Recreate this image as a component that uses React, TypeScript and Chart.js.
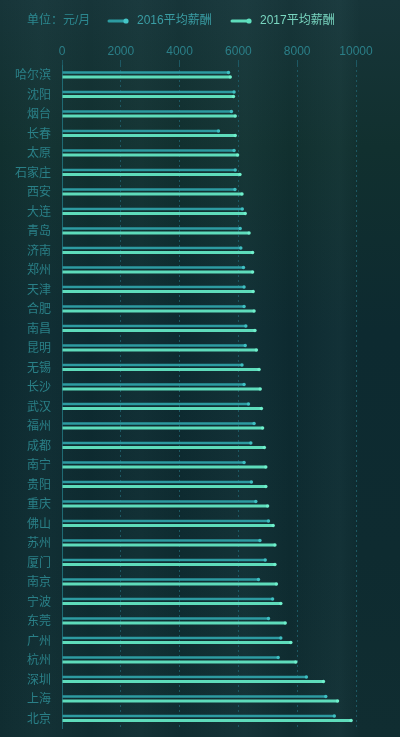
import React, { useEffect, useRef } from "react";
import { Chart, registerables } from "chart.js";

Chart.register(...registerables);

const cities = ["哈尔滨","沈阳","烟台","长春","太原","石家庄","西安","大连","青岛","济南","郑州","天津","合肥","南昌","昆明","无锡","长沙","武汉","福州","成都","南宁","贵阳","重庆","佛山","苏州","厦门","南京","宁波","东莞","广州","杭州","深圳","上海","北京"];
const salary2016 = [5680,5870,5780,5340,5870,5910,5900,6150,6080,6100,6190,6210,6210,6270,6250,6140,6210,6360,6550,6440,6210,6460,6610,7040,6750,6930,6700,7180,7040,7460,7370,8330,8990,9280];
const salary2017 = [5740,5850,5910,5910,5990,6070,6140,6250,6380,6500,6500,6520,6550,6580,6630,6720,6760,6800,6840,6900,6950,6950,7010,7200,7260,7260,7310,7460,7610,7800,7970,8910,9390,9850];
const seriesLabels = ["2016平均薪酬", "2017平均薪酬"];
const unitLabel = "单位：元/月";
const xTicks = [0, 2000, 4000, 6000, 8000, 10000];

const FONT = '"Liberation Sans", "Noto Sans CJK SC", sans-serif';
const COLOR16 = "#2d9ba1";
const COLOR17 = "#5edcbb";

const legendPlugin = {
  id: "customLegend",
  afterDraw(chart: any) {
    const ctx = chart.ctx;
    ctx.save();
    ctx.font = `12px ${FONT}`;
    ctx.textBaseline = "middle";
    ctx.textAlign = "left";
    const y = 21;
    ctx.fillStyle = "#2c8890";
    ctx.fillText(unitLabel, 27, y);
    const items = [
      { x: 108, color: COLOR16, dot: "#45c6c8", text: "#3a9da4", label: chart.data.datasets[0].label },
      { x: 231, color: COLOR17, dot: "#5ee0bf", text: "#79d6c0", label: chart.data.datasets[1].label },
    ];
    items.forEach((it) => {
      ctx.strokeStyle = it.color;
      ctx.lineWidth = 3;
      ctx.lineCap = "round";
      ctx.beginPath();
      ctx.moveTo(it.x + 1, y);
      ctx.lineTo(it.x + 18, y);
      ctx.stroke();
      ctx.fillStyle = it.dot;
      ctx.beginPath();
      ctx.arc(it.x + 18, y, 2.6, 0, Math.PI * 2);
      ctx.fill();
      ctx.fillStyle = it.text;
      ctx.fillText(it.label, it.x + 29, y);
    });
    ctx.restore();
  },
};

const dotPlugin = {
  id: "barDots",
  afterDatasetsDraw(chart: any) {
    const ctx = chart.ctx;
    ctx.save();
    chart.data.datasets.forEach((ds: any, i: number) => {
      const meta = chart.getDatasetMeta(i);
      const c = i === 0 ? "#3fc0c2" : "#6ff0cc";
      meta.data.forEach((bar: any) => {
        ctx.fillStyle = c;
        ctx.beginPath();
        ctx.arc(bar.x - 0.5, bar.y, 1.7, 0, Math.PI * 2);
        ctx.fill();
      });
    });
    ctx.restore();
  },
};

export default function App() {
  const ref = useRef<HTMLCanvasElement>(null);
  useEffect(() => {
    if (!ref.current) return;
    const chart = new Chart(ref.current, {
      type: "bar",
      data: {
        labels: cities,
        datasets: [
          {
            label: seriesLabels[0],
            data: salary2016,
            backgroundColor: COLOR16,
            borderRadius: 2,
            borderSkipped: "start",
            categoryPercentage: 0.45,
            barPercentage: 0.55,
          },
          {
            label: seriesLabels[1],
            data: salary2017,
            backgroundColor: COLOR17,
            borderRadius: 2,
            borderSkipped: "start",
            categoryPercentage: 0.45,
            barPercentage: 0.7,
          },
        ],
      },
      options: {
        indexAxis: "y",
        animation: false,
        responsive: false,
        maintainAspectRatio: false,
        layout: { padding: { top: 0, right: 44, bottom: 9, left: 0 } },
        plugins: { legend: { display: false }, tooltip: { enabled: false } },
        scales: {
          x: {
            position: "top",
            min: 0,
            max: 10000,
            afterFit: (s: any) => { s.height = 65; s.paddingLeft = 0; s.paddingRight = 0; },
            afterBuildTicks: (s: any) => { s.ticks = xTicks.map((v) => ({ value: v })); },
            ticks: {
              color: "#2b7f88",
              font: { family: FONT, size: 12 },
              padding: 1,
              callback: (v: any) => String(v),
            },
            grid: { color: "#1d5863", lineWidth: 1, tickLength: 5, drawTicks: true },
            border: { display: false, dash: [2, 3] },
          },
          y: {
            afterFit: (s: any) => { s.width = 62; s.paddingTop = 0; s.paddingBottom = 0; },
            ticks: { color: "#2a8088", font: { family: '"Noto Sans CJK SC", sans-serif', size: 12 }, padding: 11, autoSkip: false },
            grid: { color: "transparent", drawTicks: false },
            border: { display: true, color: "#1f6a73", width: 1 },
          },
        },
      },
      plugins: [legendPlugin, dotPlugin],
    });
    return () => chart.destroy();
  }, []);

  const bg =
    "linear-gradient(90deg, rgba(255,255,255,0) 0px, rgba(120,180,185,0.035) 40px, rgba(255,255,255,0) 90px, rgba(120,180,185,0.04) 140px, rgba(255,255,255,0) 180px, rgba(120,180,185,0.05) 245px, rgba(255,255,255,0) 290px, rgba(120,180,185,0.05) 340px, rgba(255,255,255,0) 360px, rgba(255,255,255,0) 400px)," +
    "linear-gradient(180deg, #173539 0%, #11302f 20%, #0d2a30 45%, #0e2b30 75%, #102d31 100%)";

  return (
    <div style={{ position: "fixed", left: 0, top: 0, width: 400, height: 737, background: bg }}>
      <canvas ref={ref} width={400} height={737} style={{ display: "block", width: 400, height: 737 }} />
    </div>
  );
}
